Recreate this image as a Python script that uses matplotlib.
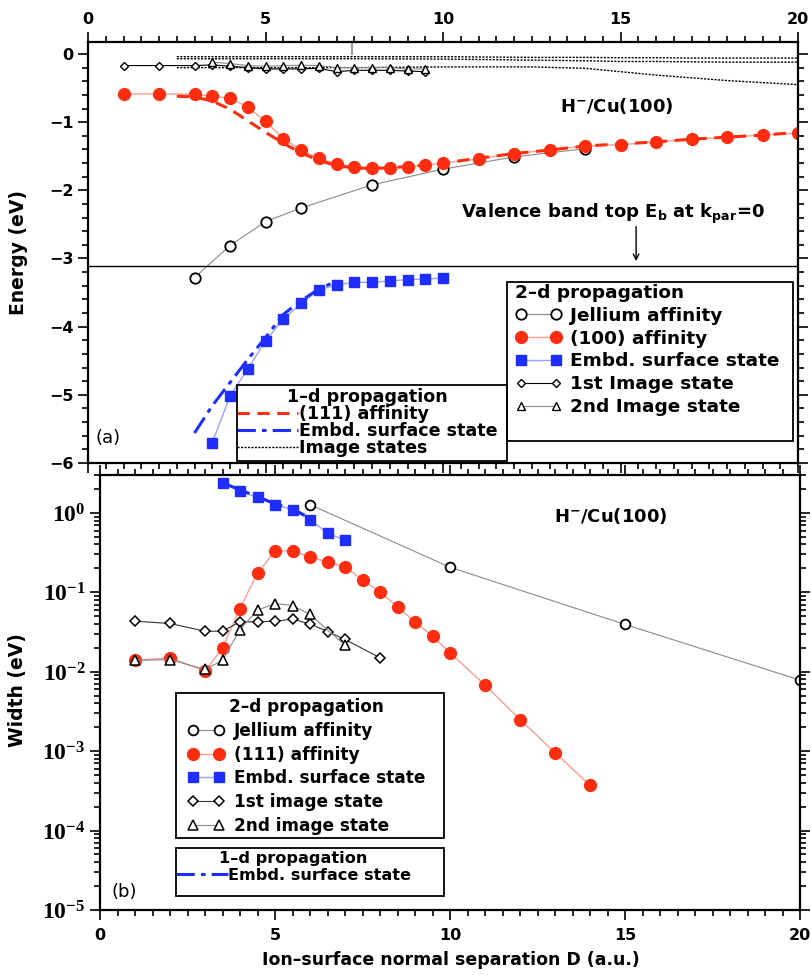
import numpy as np
import matplotlib
matplotlib.use("Agg")
import matplotlib.pyplot as plt
from matplotlib.patches import Rectangle
from matplotlib.ticker import MultipleLocator, LogLocator, FuncFormatter, NullFormatter

plt.rcParams['font.family'] = ['DejaVu Sans']
plt.rcParams['font.weight'] = 'bold'
plt.rcParams['mathtext.fontset'] = 'custom'
plt.rcParams['mathtext.rm'] = 'Liberation Serif:bold'
plt.rcParams['mathtext.sf'] = 'DejaVu Sans:bold'
plt.rcParams['mathtext.bf'] = 'DejaVu Sans:bold'

# ---------------- data, panel (a): energies (eV) ----------------
d_jel_a = [3, 4, 5, 6, 8, 10, 12, 14]
e_jel_a = [-3.28, -2.81, -2.46, -2.26, -1.92, -1.69, -1.51, -1.39]

d_100_a = [1, 2, 3, 3.5, 4, 4.5, 5, 5.5, 6, 6.5, 7, 7.5, 8, 8.5, 9, 9.5, 10,
           11, 12, 13, 14, 15, 16, 17, 18, 19, 20]
e_100_a = [-0.585, -0.585, -0.59, -0.62, -0.65, -0.78, -0.99, -1.24, -1.41, -1.53,
           -1.61, -1.66, -1.68, -1.67, -1.66, -1.63, -1.60,
           -1.54, -1.46, -1.41, -1.35, -1.33, -1.29, -1.25, -1.22, -1.19, -1.16]

d_ss_a = [3.5, 4, 4.5, 5, 5.5, 6, 6.5, 7, 7.5, 8, 8.5, 9, 9.5, 10]
e_ss_a = [-5.70, -5.02, -4.62, -4.21, -3.89, -3.66, -3.46, -3.39, -3.35, -3.35,
          -3.33, -3.31, -3.30, -3.29]

d_img1_a = [1, 2, 3, 3.5, 4, 4.5, 5, 5.5, 6, 6.5, 7, 7.5, 8, 8.5, 9, 9.5]
e_img1_a = [-0.17, -0.17, -0.17, -0.16, -0.18, -0.20, -0.22, -0.22, -0.22, -0.21,
            -0.26, -0.24, -0.24, -0.24, -0.25, -0.26]

d_img2_a = [3.5, 4, 4.5, 5, 5.5, 6, 6.5, 7, 7.5, 8, 8.5, 9, 9.5]
e_img2_a = [-0.12, -0.14, -0.17, -0.18, -0.17, -0.165, -0.17, -0.20, -0.20, -0.20,
            -0.20, -0.22, -0.22]

# 1-d propagation curves
d_111_1d = [2.5, 3, 3.5, 4, 4.5, 5, 5.5, 6, 6.5, 7, 7.5, 8, 8.5, 9, 9.5, 10,
            11, 12, 13, 14, 15, 16, 17, 18, 19, 20]
e_111_1d = [-0.62, -0.63, -0.69, -0.81, -0.98, -1.15, -1.31, -1.45, -1.56, -1.64,
            -1.67, -1.68, -1.67, -1.65, -1.63, -1.60,
            -1.53, -1.46, -1.41, -1.35, -1.32, -1.29, -1.25, -1.22, -1.19, -1.15]

d_ss_1d = [3, 3.5, 4, 4.5, 5, 5.5, 6, 6.5, 7]
e_ss_1d = [-5.56, -5.16, -4.82, -4.48, -4.16, -3.82, -3.62, -3.45, -3.33]

d_img_1d = [2.5, 5, 7.5, 10, 12.5, 14, 15, 16, 17, 18, 19, 20]
e_img_1d_1 = [-0.04, -0.04, -0.04, -0.04, -0.05, -0.05, -0.055, -0.055, -0.06, -0.06, -0.06, -0.06]
e_img_1d_2 = [-0.07, -0.07, -0.07, -0.075, -0.09, -0.10, -0.11, -0.11, -0.115, -0.12, -0.12, -0.12]
e_img_1d_3 = [-0.20, -0.20, -0.20, -0.19, -0.19, -0.21, -0.26, -0.31, -0.35, -0.39, -0.42, -0.45]

e_vband = -3.11
d_arrow = 15.44

# ---------------- data, panel (b): widths (eV) ----------------
d_jel_b = [6, 10, 15, 20]
w_jel_b = [1.27, 0.207, 0.0394, 0.00785]

d_111_b = [1, 2, 3, 3.5, 4, 4.5, 5, 5.5, 6, 6.5, 7, 7.5, 8, 8.5, 9, 9.5, 10,
           11, 12, 13, 14]
w_111_b = [0.0139, 0.015, 0.0102, 0.020, 0.0625, 0.176, 0.329, 0.336, 0.277, 0.242,
           0.209, 0.142, 0.102, 0.0656, 0.0425, 0.028, 0.0173,
           0.0068, 0.0025, 0.00096, 0.00037]

d_ss_b = [3.5, 4, 4.5, 5, 5.5, 6, 6.5, 7]
w_ss_b = [2.38, 1.87, 1.57, 1.27, 1.10, 0.82, 0.56, 0.45]

d_ss_1d_b = [3.5, 4, 4.5, 5, 5.5, 6]
w_ss_1d_b = [2.4, 1.95, 1.6, 1.3, 1.12, 0.86]

d_img1_b = [1, 2, 3, 3.5, 4, 4.5, 5, 5.5, 6, 6.5, 7, 8]
w_img1_b = [0.0433, 0.0405, 0.0324, 0.0324, 0.0425, 0.0425, 0.0433, 0.0459, 0.040,
            0.0321, 0.0255, 0.015]

d_img2_b = [1, 2, 3, 3.5, 4, 4.5, 5, 5.5, 6, 7]
w_img2_b = [0.0139, 0.0142, 0.0107, 0.0139, 0.034, 0.0596, 0.0723, 0.0682, 0.0526, 0.0216]

red = '#ff2d10'
red_l = '#ff9c90'
blue = '#1f2eff'
blue_l = '#9aa2ff'
gray = '#8a8a8a'

W, H = 811, 975


def fx(px):
    return px / W


def fy(py):
    return 1 - py / H


def box(x0, y0, x1, y1):
    fig.add_artist(Rectangle((fx(x0), fy(y1)), fx(x1) - fx(x0), fy(y0) - fy(y1),
                             transform=fig.transFigure, fill=False, lw=1.3,
                             edgecolor='black', zorder=5))


fig = plt.figure(figsize=(W / 100, H / 100), dpi=100)
ax1 = fig.add_axes([fx(88), fy(463), fx(798) - fx(88), fy(41.7) - fy(463)])
ax2 = fig.add_axes([fx(100), fy(910), fx(800) - fx(100), fy(475) - fy(910)])

# ---------------- panel (a) ----------------
for e in (e_img_1d_1, e_img_1d_2, e_img_1d_3):
    ax1.plot(d_img_1d, e, ls=(0, (1.5, 1)), color='black', lw=1.0)
ax1.plot([7.45, 7.45], [0.18, 0.0], color='#999999', lw=1.5)

l_jel, = ax1.plot(d_jel_a, e_jel_a, '-', color=gray, lw=0.8, marker='o', ms=7.5,
                  mfc='white', mec='black', mew=1.3)
l_100, = ax1.plot(d_100_a, e_100_a, '-', color=red_l, lw=1.0, marker='o', ms=8.5,
                  mfc=red, mec=red)
l_ss, = ax1.plot(d_ss_a, e_ss_a, '-', color=blue_l, lw=1.0, marker='s', ms=7.5,
                 mfc=blue, mec=blue)
l_i1, = ax1.plot(d_img1_a, e_img1_a, '-', color='black', lw=0.8, marker='D', ms=4.5,
                 mfc='white', mec='black', mew=1.0)
l_i2, = ax1.plot(d_img2_a, e_img2_a, '-', color=gray, lw=0.8, marker='^', ms=5.5,
                 mfc='white', mec='black', mew=1.0)
l_111d, = ax1.plot(d_111_1d, e_111_1d, ls=(0, (4, 2.5)), color=red, lw=2.2)
l_ssd, = ax1.plot(d_ss_1d, e_ss_1d, ls=(0, (6, 2, 1.5, 2)), color=blue, lw=2.2)
l_imd, = ax1.plot([], [], ls=(0, (1.5, 1)), color='black', lw=1.0)

ax1.axhline(e_vband, color='black', lw=1.0)
ax1.annotate('', xy=(d_arrow, e_vband + 0.03), xytext=(d_arrow, -2.49),
             arrowprops=dict(arrowstyle='->', color='black', lw=1.0))
ax1.text(14.78, -2.35, r'Valence band top E$_\mathsf{b}$ at k$_\mathsf{par}$=0',
         ha='center', va='center', fontsize=13, fontweight='bold')
ax1.text(14.9, -0.77, r'H$^{\mathsf{-}}$/Cu(100)', ha='center', va='center',
         fontsize=13, fontweight='bold')
ax1.text(0.01, 0.06, '(a)', transform=ax1.transAxes, fontsize=13,
         fontweight='normal', va='center')

ax1.set_xlim(0, 20)
ax1.set_ylim(-6, 0.18)
ax1.xaxis.set_major_locator(MultipleLocator(5))
ax1.xaxis.set_minor_locator(MultipleLocator(0.5))
ax1.yaxis.set_major_locator(MultipleLocator(1))
ax1.yaxis.set_minor_locator(MultipleLocator(0.2))
ax1.tick_params(which='both', direction='out', top=True, right=True,
                labeltop=True, labelbottom=False, labelsize=11.5, width=1.2)
ax1.tick_params(which='major', length=7)
ax1.tick_params(which='minor', length=4)
ax1.set_ylabel('Energy (eV)', fontsize=13.5, fontweight='bold')
ax1.yaxis.set_label_coords(-0.085, 0.5)
for s in ax1.spines.values():
    s.set_linewidth(1.6)

leg = ax1.legend([l_jel, l_100, l_ss, l_i1, l_i2],
                 ['Jellium affinity', '(100) affinity', 'Embd. surface state',
                  '1st Image state', '2nd Image state'],
                 title='2\u2013d propagation', alignment='left',
                 loc='upper left', bbox_to_anchor=(fx(515), fy(284)),
                 bbox_transform=fig.transFigure, frameon=False, numpoints=2,
                 handlelength=2.5, handletextpad=0.5, labelspacing=0.26,
                 borderpad=0, borderaxespad=0,
                 prop={'size': 13.3, 'weight': 'bold'},
                 title_fontproperties={'size': 13.3, 'weight': 'bold'})
ax1.add_artist(leg)
box(507, 282, 793, 441)

leg2 = ax1.legend([l_111d, l_ssd, l_imd],
                  ['(111) affinity', 'Embd. surface state', 'Image states'],
                  title='1\u2013d propagation',
                  loc='upper left', bbox_to_anchor=(fx(237), fy(388)),
                  bbox_transform=fig.transFigure, frameon=False,
                  handlelength=3.5, handletextpad=0.05, labelspacing=-0.06,
                  borderpad=0, borderaxespad=0,
                  prop={'size': 12.6, 'weight': 'bold'},
                  title_fontproperties={'size': 12.6, 'weight': 'bold'})
box(237, 385, 507, 461)

# ---------------- panel (b) ----------------
m_jel, = ax2.plot(d_jel_b, w_jel_b, '-', color=gray, lw=0.8, marker='o', ms=7,
                  mfc='white', mec='black', mew=1.3)
m_111, = ax2.plot(d_111_b, w_111_b, '-', color=red_l, lw=1.0, marker='o', ms=8.5,
                  mfc=red, mec=red)
m_ss, = ax2.plot(d_ss_b, w_ss_b, '-', color=blue_l, lw=1.0, marker='s', ms=7.5,
                 mfc=blue, mec=blue)
m_ssd, = ax2.plot(d_ss_1d_b, w_ss_1d_b, ls=(0, (6, 2, 1.5, 2)), color=blue, lw=2.2)
m_i1, = ax2.plot(d_img1_b, w_img1_b, '-', color='#333333', lw=0.8, marker='D', ms=5.5,
                 mfc='white', mec='black', mew=1.1)
m_i2, = ax2.plot(d_img2_b, w_img2_b, '-', color=gray, lw=0.8, marker='^', ms=7,
                 mfc='white', mec='black', mew=1.1)

ax2.text(14.6, 0.92, r'H$^{\mathsf{-}}$/Cu(100)', ha='center', va='center',
         fontsize=13, fontweight='bold')
ax2.text(0.016, 0.041, '(b)', transform=ax2.transAxes, fontsize=13,
         fontweight='normal', va='center')

ax2.set_yscale('log')
ax2.set_xlim(0, 20)
ax2.set_ylim(1e-5, 3.0)
ax2.xaxis.set_major_locator(MultipleLocator(5))
ax2.xaxis.set_minor_locator(MultipleLocator(0.5))
ax2.yaxis.set_major_locator(LogLocator(base=10, numticks=10))
ax2.yaxis.set_minor_locator(LogLocator(base=10, subs=np.arange(2, 10), numticks=20))
ax2.yaxis.set_major_formatter(FuncFormatter(lambda v, p: r'$\mathrm{10^{%d}}$' % round(np.log10(v))))
ax2.yaxis.set_minor_formatter(NullFormatter())
ax2.tick_params(which='both', direction='out', top=True, right=True, width=1.2)
ax2.tick_params(axis='x', labelsize=11.5, pad=6)
ax2.tick_params(axis='y', labelsize=17)
ax2.tick_params(which='major', length=7)
ax2.tick_params(which='minor', length=4)
ax2.set_ylabel('Width (eV)', fontsize=13.5, fontweight='bold')
ax2.yaxis.set_label_coords(-0.104, 0.506)
ax2.set_xlabel('Ion\u2013surface normal separation D (a.u.)', fontsize=12.5,
               fontweight='bold')
ax2.xaxis.set_label_coords(0.501, -0.094)
for s in ax2.spines.values():
    s.set_linewidth(1.6)

leg3 = ax2.legend([m_jel, m_111, m_ss, m_i1, m_i2],
                  ['Jellium affinity', '(111) affinity', 'Embd. surface state',
                   '1st image state', '2nd image state'],
                  title='2\u2013d propagation',
                  loc='upper left', bbox_to_anchor=(fx(188), fy(698)),
                  bbox_transform=fig.transFigure, frameon=False, numpoints=2,
                  handlelength=2.1, handletextpad=0.6, labelspacing=0.34,
                  borderpad=0, borderaxespad=0,
                  prop={'size': 12.2, 'weight': 'bold'},
                  title_fontproperties={'size': 12.2, 'weight': 'bold'})
ax2.add_artist(leg3)
box(176, 693, 444, 838)

leg4 = ax2.legend([m_ssd], ['Embd. surface state'], title='1\u2013d propagation',
                  loc='upper left', bbox_to_anchor=(fx(176), fy(851)),
                  bbox_transform=fig.transFigure, frameon=False,
                  handlelength=3.2, handletextpad=0.05, labelspacing=0.1,
                  borderpad=0, borderaxespad=0,
                  prop={'size': 11.6, 'weight': 'bold'},
                  title_fontproperties={'size': 11.6, 'weight': 'bold'})
box(176, 848, 444, 896)

fig.savefig('out.png', dpi=100)
